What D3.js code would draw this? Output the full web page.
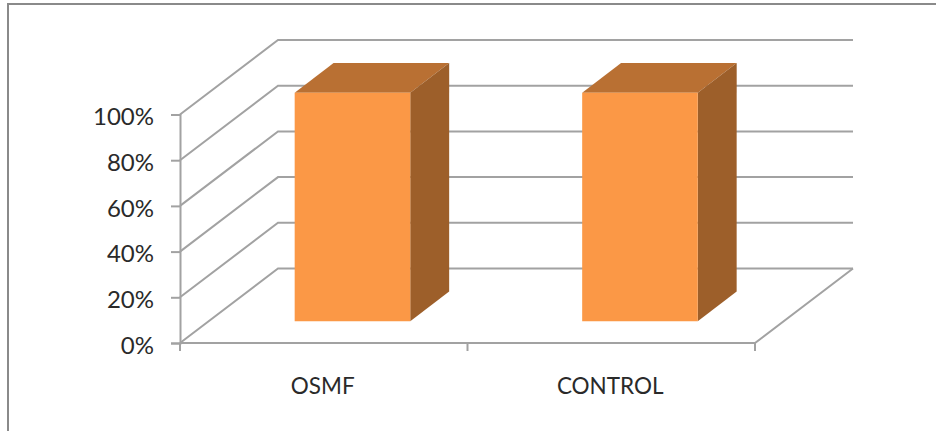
<!DOCTYPE html>
<html>
<head>
<meta charset="utf-8">
<script src="https://cdn.jsdelivr.net/npm/d3@7"></script>
<style>
  html, body { margin: 0; padding: 0; background: #fff; }
  svg { display: block; }
  text { font-family: Lato, "Open Sans", sans-serif; fill: #2a2a2a; }
</style>
</head>
<body>
<svg id="chart" width="936" height="431"></svg>
<script>
const categories = ["OSMF", "CONTROL"];
const seriesValues = [100, 100];
const yTicks = [0, 20, 40, 60, 80, 100];

const svg = d3.select("#chart");

const x = d3.scaleBand().domain(categories).range([180, 755]).paddingInner(0).paddingOuter(0);
const y = d3.scaleLinear().domain([0, 100]).range([343, 114.5]);

// Oblique projection of the depth axis: 0 is the front plane, 1 the back wall.
const depthX = d3.scaleLinear().domain([0, 1]).range([0, 98]);
const depthY = d3.scaleLinear().domain([0, 1]).range([0, -74.5]);
const project = (px, py, d) => [px + depthX(d), py + depthY(d)];

const barDepth = [0.293, 0.69];
const barWidthShare = 0.402;

const lineColor = "#a2a2a2";
const lineWidth = 2;
const faceFront = "#fb9846";
const faceTop = "#b97033";
const faceSide = "#9d5f2a";

// Outer chart frame (open on the right and at the bottom)
svg.append("path")
  .attr("d", "M8,431V4H936")
  .attr("fill", "none")
  .attr("stroke", "#8a8a8a")
  .attr("stroke-width", 2);

const line = d3.line();

// Gridlines run up the side wall, then along the back wall
svg.append("g").selectAll("path").data(yTicks).join("path")
  .attr("d", t => line([
    [x.range()[0], y(t)],
    project(x.range()[0], y(t), 1),
    project(x.range()[1], y(t), 1)
  ]))
  .attr("fill", "none")
  .attr("stroke", lineColor)
  .attr("stroke-width", lineWidth);

// Right edge of the floor and the front floor edge
svg.append("path")
  .attr("d", line([
    project(x.range()[1], y(0), 1),
    [x.range()[1], y(0)],
    [x.range()[0], y(0)]
  ]))
  .attr("fill", "none")
  .attr("stroke", lineColor)
  .attr("stroke-width", lineWidth);

// Vertical value axis with its labels
const yAxis = d3.axisLeft(y).tickValues(yTicks).tickFormat(d => d + "%").tickSize(9).tickPadding(17);
const yG = svg.append("g").attr("transform", `translate(${x.range()[0]},0)`).call(yAxis);
yG.selectAll("path,line").attr("stroke", lineColor).attr("stroke-width", lineWidth);
yG.selectAll("text")
  .attr("dy", "0.62em")
  .attr("y", -4.5)
  .attr("font-size", 24)
  .attr("font-family", 'Lato, "Open Sans", sans-serif')
  .attr("fill", "#2a2a2a");

// Category axis: ticks sit on band boundaries
const boundaries = [x.range()[0], x(categories[1]), x.range()[1]];
svg.append("g").selectAll("line").data(boundaries).join("line")
  .attr("x1", d => d).attr("x2", d => d)
  .attr("y1", y(0)).attr("y2", y(0) + 8)
  .attr("stroke", lineColor).attr("stroke-width", lineWidth);

svg.append("g").selectAll("text").data(categories).join("text")
  .attr("x", d => x(d) + x.bandwidth() / 2 - 1)
  .attr("y", 394)
  .attr("text-anchor", "middle")
  .attr("font-size", 22.5)
  .text(d => d);

// Bars as three visible faces of a box
const bars = svg.append("g").selectAll("g")
  .data(categories.map((c, i) => ({ c, v: seriesValues[i] })))
  .join("g");

const corners = d => {
  const w = x.bandwidth() * barWidthShare;
  const left = x(d.c) + (x.bandwidth() - w) / 2;
  return { left, right: left + w, top: y(d.v), bottom: y(0) };
};

bars.append("path")
  .attr("fill", faceTop)
  .attr("d", d => {
    const k = corners(d);
    return line([
      project(k.left, k.top, barDepth[0]),
      project(k.left, k.top, barDepth[1]),
      project(k.right, k.top, barDepth[1]),
      project(k.right, k.top, barDepth[0])
    ]) + "Z";
  });

bars.append("path")
  .attr("fill", faceSide)
  .attr("d", d => {
    const k = corners(d);
    return line([
      project(k.right, k.top, barDepth[0]),
      project(k.right, k.top, barDepth[1]),
      project(k.right, k.bottom, barDepth[1]),
      project(k.right, k.bottom, barDepth[0])
    ]) + "Z";
  });

bars.append("path")
  .attr("fill", faceFront)
  .attr("d", d => {
    const k = corners(d);
    return line([
      project(k.left, k.top, barDepth[0]),
      project(k.right, k.top, barDepth[0]),
      project(k.right, k.bottom, barDepth[0]),
      project(k.left, k.bottom, barDepth[0])
    ]) + "Z";
  });
</script>
</body>
</html>
